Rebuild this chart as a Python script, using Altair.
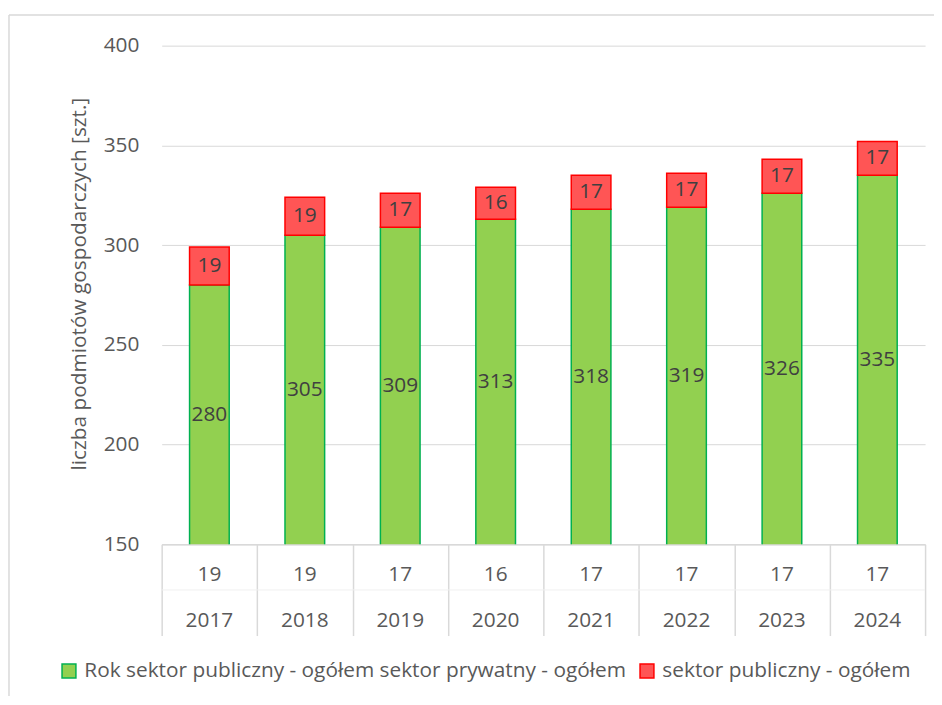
import altair as alt
import pandas as pd

years = ["2017", "2018", "2019", "2020", "2021", "2022", "2023", "2024"]
private = [280, 305, 309, 313, 318, 319, 326, 335]
public = [19, 19, 17, 16, 17, 17, 17, 17]
series = ["Rok sektor publiczny - ogółem sektor prywatny - ogółem", "sektor publiczny - ogółem"]
fills = ["#92D050", "#FF5555"]
strokes = ["#00B050", "#FF0000"]
y_ticks = [150, 200, 250, 300, 350, 400]
y_title = "liczba podmiotów gospodarczych [szt.]"

FONT = "Open Sans"
FS = 21
W, H = 770, 503
YMIN, YMAX = 150, 400

wide = pd.DataFrame({"year": years, "private": private, "public": public})
long = pd.concat([
    pd.DataFrame({"year": years, "series": series[0], "value": private, "ord": 0}),
    pd.DataFrame({"year": years, "series": series[1], "value": public, "ord": 1}),
], ignore_index=True)

xenc = alt.X("year:N", sort=years,
             scale=alt.Scale(paddingInner=0, paddingOuter=0),
             axis=alt.Axis(labels=False, title=None, domain=True, domainColor="#d9d9d9",
                           domainWidth=1.5, ticks=True, tickBand="extent", tickSize=92,
                           tickColor="#d9d9d9", tickWidth=1.5, grid=False))
yscale = alt.Scale(domain=[YMIN, YMAX], nice=False, zero=False)

leg = dict(title=None, orient="none", legendX=-104, legendY=620,
           direction="horizontal", symbolType="square",
           symbolSize=196, symbolStrokeWidth=1.5, labelFont=FONT,
           labelFontSize=FS, labelColor="#595959", labelOffset=5,
           columnPadding=10, padding=0, labelLimit=1000)

bars = alt.Chart(long).mark_bar(size=40, strokeWidth=1.5, clip=True).encode(
    x=xenc,
    y=alt.Y("value:Q", stack="zero", scale=yscale,
            axis=alt.Axis(values=y_ticks, title=y_title, grid=True, gridColor="#d9d9d9",
                          gridWidth=1, domain=False, ticks=False, labelPadding=23,
                          labelFontSize=FS, labelColor="#595959", labelFont=FONT,
                          titleFont=FONT, titleFontSize=FS, titleColor="#595959",
                          titleFontWeight="normal", titleX=-83, titleY=240,
                          titleAngle=-90, titleAlign="center", titleBaseline="middle")),
    color=alt.Color("series:N", scale=alt.Scale(domain=series, range=fills),
                    legend=alt.Legend(**leg)),
    stroke=alt.Stroke("series:N", scale=alt.Scale(domain=series, range=strokes),
                      legend=alt.Legend(**leg)),
    order=alt.Order("ord:Q"),
)

base = alt.Chart(wide)
lbl_priv = base.transform_calculate(mid=f"({YMIN} + datum.private) / 2").mark_text(
    font=FONT, fontSize=FS, color="#404040").encode(
    x=alt.X("year:N", sort=years), y=alt.Y("mid:Q", scale=yscale),
    text="private:Q")
lbl_pub = base.transform_calculate(mid="datum.private + datum.public / 2").mark_text(
    font=FONT, fontSize=FS, color="#404040").encode(
    x=alt.X("year:N", sort=years), y=alt.Y("mid:Q", scale=yscale),
    text="public:Q")
row1 = base.mark_text(font=FONT, fontSize=FS, color="#595959").encode(
    x=alt.X("year:N", sort=years), y=alt.value(H + 31), text="public:Q")
row2 = base.mark_text(font=FONT, fontSize=FS, color="#595959").encode(
    x=alt.X("year:N", sort=years), y=alt.value(H + 77), text="year:N")

one = alt.Data(values=[{"k": 1}])
sep = alt.Chart(one).mark_rule(color="#f0f0f0", strokeWidth=1).encode(
    x=alt.value(0), x2=alt.value(W), y=alt.value(H + 46))
border_top = alt.Chart(one).mark_rule(color="#d9d9d9", strokeWidth=1.5).encode(
    x=alt.value(-154), x2=alt.value(W + 20), y=alt.value(-31))
border_left = alt.Chart(one).mark_rule(color="#d9d9d9", strokeWidth=1.5).encode(
    x=alt.value(-154), y=alt.value(-31), y2=alt.value(H + 160))

chart = alt.layer(bars, lbl_priv, lbl_pub, row1, row2, sep, border_top, border_left).properties(
    width=W, height=H,
    background="white",
    autosize=alt.AutoSizeParams(type="none"),
    padding={"left": 155, "top": 35, "right": 9, "bottom": 150},
).configure_view(stroke="transparent", strokeWidth=0).configure_axisY(domain=False, ticks=False)

chart.save("out.html", embed_options={"renderer": "svg", "actions": False})
